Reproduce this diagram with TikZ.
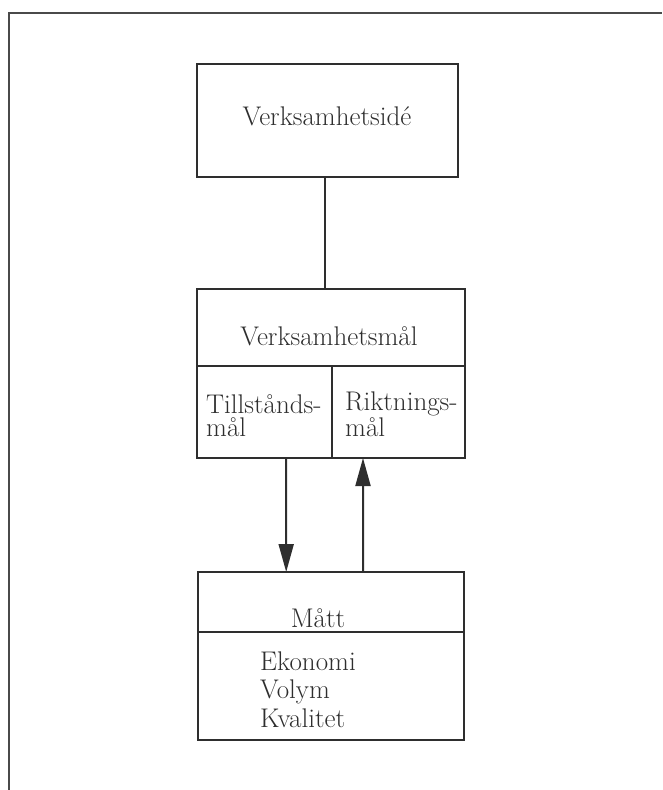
\documentclass[tikz,border=0pt]{standalone}
\usetikzlibrary{arrows.meta,calc}
\definecolor{ink}{HTML}{2E2E2E}
\definecolor{framegray}{HTML}{4A4A4A}
\begin{document}
\begin{tikzpicture}[x=1pt,y=-1pt,
  box/.style={draw=ink, line width=2pt, rectangle, inner sep=0pt, outer sep=0pt, anchor=north west},
  lbl/.style={font=\fontsize{27}{29}\selectfont, text=ink, inner sep=0pt},
  link/.style={draw=ink, line width=2pt},
  flow/.style={draw=ink, line width=2pt, -{Triangle[length=28pt,width=15pt]}},
  frame/.style={draw=framegray, line width=2.5pt}]
\useasboundingbox (0,0) rectangle (662,790);

% page frame (top and left edges)
\draw[frame] (9,790) -- (9,13) -- (662,13);

% Verksamhetsidé
\node[box, minimum width=261pt, minimum height=113pt] (ide) at (197,64) {};
\node[lbl, anchor=base] (ideT) at (327,125) {Verksamhetsidé};

% Verksamhetsmål with its two sub-goals
\node[box, minimum width=268pt, minimum height=77pt] (mal) at (197,289) {};
\node[box, minimum width=135pt, minimum height=92pt] (tillst) at (197,366) {};
\node[box, minimum width=133pt, minimum height=92pt] (rikt) at (332,366) {};
\node[lbl, anchor=base] (malT) at (329,345) {Verksamhetsmål};
% multi-line labels: the base anchor sits on the last line
\node[lbl, anchor=base west, align=left, font=\fontsize{27}{23}\selectfont] (tillstT) at (206,436) {Tillstånds-\\mål};
\node[lbl, anchor=base west, align=left, font=\fontsize{27}{23}\selectfont] (riktT) at (345,436) {Riktnings-\\mål};

% Mått
\node[box, minimum width=266pt, minimum height=60pt] (matt) at (198,572) {};
\node[box, minimum width=266pt, minimum height=108pt] (mattlist) at (198,632) {};
\node[lbl, anchor=base] (mattT) at (318,627) {Mått};
\node[lbl, anchor=base west, align=left, font=\fontsize{27}{28.5}\selectfont] (listT) at (260,727) {Ekonomi\\Volym\\Kvalitet};

% connectors
\draw[link] (ide.south -| 325,0) -- (mal.north -| 325,0);
\draw[flow] ($(tillst.south west)!0.66!(tillst.south east)$) -- ($(matt.north west)!0.3316!(matt.north east)$);
\draw[flow] ($(matt.north west)!0.6203!(matt.north east)$) -- ($(rikt.south west)!0.2331!(rikt.south east)$);
\end{tikzpicture}
\end{document}
